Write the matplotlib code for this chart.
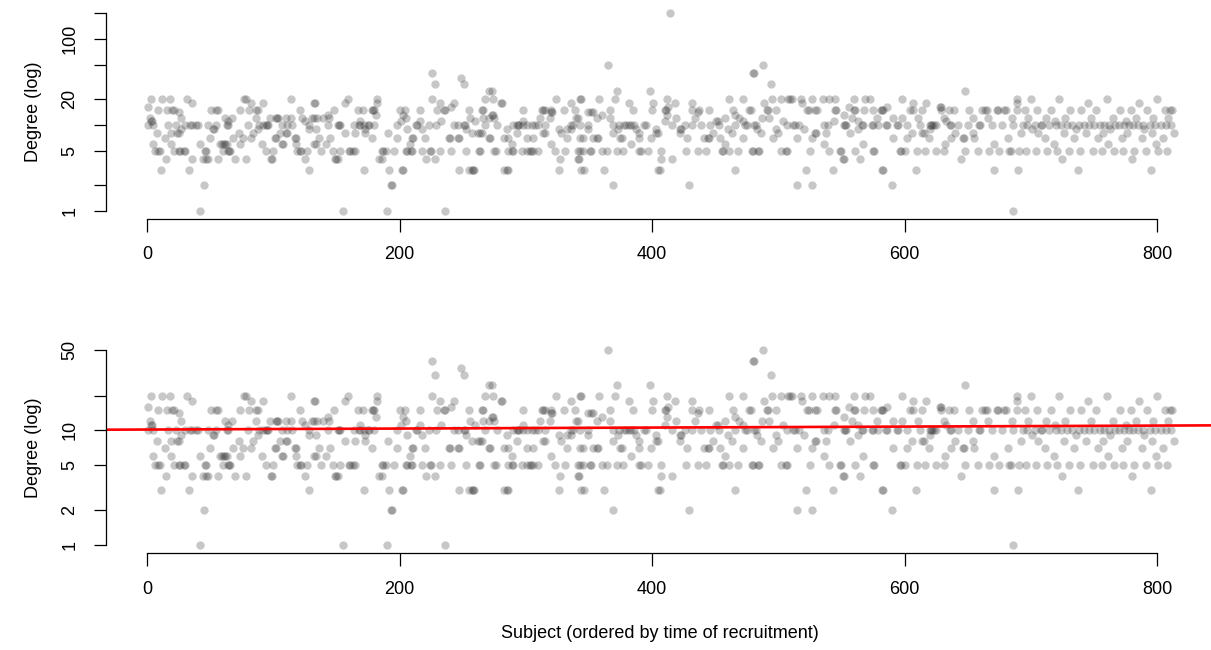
import matplotlib
matplotlib.use("Agg")
import matplotlib.pyplot as plt
from matplotlib.ticker import NullLocator, FixedLocator, FixedFormatter
import numpy as np

plt.rcParams['font.family'] = ['Liberation Sans', 'DejaVu Sans']

# subjects (recruitment order) grouped by their reported degree
deg1 = [42, 155, 190, 236, 686]
deg2 = [45, 193, 194, 369, 429, 515, 527, 590]
deg3 = [11, 33, 128, 172, 192, 202, 203, 247, 255, 257, 258, 259, 283, 285, 286,
        326, 344, 346, 362, 405, 406, 466, 522, 543, 582, 583, 609, 671, 690,
        737, 795]
deg4 = [15, 36, 44, 47, 48, 56, 70, 78, 98, 99, 125, 149, 150, 151, 184, 186,
        221, 228, 327, 341, 342, 407, 416, 551, 552, 565, 645, 725, 780]
deg5 = [6, 9, 10, 21, 25, 26, 29, 30, 46, 47, 60, 64, 65, 66, 94, 100, 119, 121,
        122, 127, 138, 147, 153, 160, 161, 163, 165, 186, 187, 189, 196, 205, 206,
        209, 210, 218, 224, 225, 232, 241, 253, 263, 264, 275, 276, 286, 289, 290,
        297, 301, 303, 304, 306, 310, 323, 331, 341, 343, 345, 351, 352, 360, 364,
        372, 377, 390, 391, 397, 407, 427, 436, 443, 455, 456, 461, 468, 479, 480,
        484, 485, 502, 506, 507, 525, 540, 550, 549, 561, 575, 576, 596, 597, 600,
        610, 616, 625, 631, 648, 658, 667, 675, 683, 684, 691, 696, 704, 713, 721,
        730, 739, 749, 756, 766, 773, 782, 791, 801, 808]
deg6 = [5, 19, 42, 58, 59, 62, 63, 61, 74, 91, 107, 108, 118, 132, 134, 142, 208,
        289, 320, 383, 458, 536, 567, 632, 671, 718, 761, 799]
deg7 = [14, 50, 68, 76, 82, 101, 102, 117, 118, 136, 145, 178, 198, 210, 211, 220,
        239, 240, 246, 247, 271, 272, 283, 286, 301, 306, 333, 343, 345, 353, 356,
        357, 375, 376, 390, 399, 428, 441, 444, 445, 454, 472, 496, 515, 527, 591,
        602, 619, 637, 646, 647, 655, 682, 711, 734, 753, 772, 788, 805]
deg8 = [8, 19, 24, 25, 73, 84, 105, 110, 111, 157, 165, 173, 191, 257, 262, 264,
        265, 293, 314, 315, 328, 369, 390, 403, 405, 422, 448, 463, 486, 500, 529,
        530, 538, 557, 606, 614, 615, 640, 654, 692, 706, 726, 744, 757, 776, 796,
        813]
deg9 = [27, 52, 53, 88, 128, 134, 173, 206, 218, 253, 285, 326, 333, 336, 349, 373,
        387, 403, 422, 423, 460, 483, 498, 520, 563, 620, 701, 736, 763, 790]
deg10 = [1, 5, 17, 23, 30, 34, 36, 39, 40, 48, 55, 63, 64, 80, 89, 92, 94, 95, 96,
         107, 111, 115, 128, 143, 151, 152, 153, 164, 168, 169, 172, 175, 176, 180,
         198, 213, 214, 223, 229, 243, 246, 251, 252, 268, 277, 290, 293, 294, 295,
         298, 301, 305, 307, 310, 315, 336, 337, 343, 349, 369, 374, 378, 379, 382,
         383, 386, 394, 395, 416, 426, 432, 439, 446, 453, 466, 474, 475, 481, 482,
         507, 512, 513, 516, 536, 539, 552, 553, 554, 566, 567, 574, 575, 579, 585,
         586, 594, 595, 602, 612, 620, 621, 622, 623, 625, 636, 637, 642, 650, 659,
         660, 669, 677, 686, 694, 697, 703, 708, 709, 714, 720, 724, 729, 733, 738,
         742, 746, 750, 755, 758, 762, 767, 770, 774, 778, 781, 785, 789, 794, 798,
         803, 807, 811]
deg11 = [3, 4, 64, 125, 169, 201, 216, 233, 260, 298, 410, 451, 452, 472, 504, 544,
         563, 633, 719, 775]
deg12 = [2, 27, 62, 67, 86, 97, 102, 103, 104, 110, 114, 123, 131, 132, 135, 139,
         144, 205, 256, 266, 271, 275, 311, 319, 340, 341, 356, 367, 419, 434, 458,
         469, 487, 493, 558, 578, 591, 598, 611, 631, 654, 666, 685, 698, 712, 727,
         748, 765, 783, 797, 809]
deg13 = [143, 181, 203, 273, 274, 360, 412, 466, 552]
deg14 = [25, 320, 321, 349, 352, 353, 436]
deg15 = [9, 16, 20, 21, 51, 55, 56, 74, 81, 86, 88, 121, 148, 167, 171, 178, 179,
         180, 200, 204, 216, 230, 235, 236, 255, 265, 266, 298, 313, 314, 315, 320,
         330, 339, 367, 385, 400, 410, 411, 432, 437, 445, 464, 477, 478, 491, 492,
         498, 523, 524, 529, 531, 545, 546, 560, 561, 568, 575, 581, 582, 583, 604,
         607, 614, 629, 635, 639, 651, 661, 664, 665, 673, 674, 679, 680, 689, 695,
         705, 716, 731, 740, 752, 771, 779, 792, 806, 810, 812]
deg16 = [1, 241, 413, 556, 586, 628, 629]
deg18 = [36, 82, 92, 132, 133, 157, 182, 232, 243, 280, 281, 336, 382, 401, 418,
         432, 489, 519, 607, 617, 689, 745, 786]
deg20 = [3, 12, 18, 32, 77, 78, 114, 159, 182, 226, 268, 274, 324, 343, 344, 358,
         371, 412, 461, 472, 495, 502, 508, 509, 511, 518, 527, 535, 540, 545, 560,
         569, 573, 598, 689, 700, 722, 760, 800]
deg25 = [271, 273, 372, 398, 648]
deg30 = [228, 251, 494]
deg35 = [249]
deg40 = [226, 480, 481]
deg50 = [365, 488]
deg200 = [414]

groups = [(1, deg1), (2, deg2), (3, deg3), (4, deg4), (5, deg5), (6, deg6),
          (7, deg7), (8, deg8), (9, deg9), (10, deg10), (11, deg11), (12, deg12),
          (13, deg13), (14, deg14), (15, deg15), (16, deg16), (18, deg18),
          (20, deg20), (25, deg25), (30, deg30), (35, deg35), (40, deg40),
          (50, deg50), (200, deg200)]
subject = np.concatenate([np.array(s, dtype=float) for d, s in groups])
degree = np.concatenate([np.full(len(s), d, dtype=float) for d, s in groups])

# fitted trend (log10 degree ~ subject)
fit_log10_intercept = 1.006
fit_log10_slope = 4.3e-5

top_ticks = [1, 2, 5, 10, 20, 50, 100, 200]
top_labels = ['1', '', '5', '', '20', '', '100', '']
bot_ticks = [1, 2, 5, 10, 20, 50]
bot_labels = ['1', '2', '5', '10', '', '50']
x_ticks = [0, 200, 400, 600, 800]

W, H = 1211, 650
fig = plt.figure(figsize=(W / 100, H / 100), dpi=100)

def px_axes(x0, x1, y0, y1):
    return fig.add_axes([x0 / W, 1 - y1 / H, (x1 - x0) / W, (y1 - y0) / H])

ax1 = px_axes(106, 1211, 5.4, 218.6)
ax2 = px_axes(106, 1211, 342, 553)

FS = 13
for ax, ticks, labels, ylim, ybound in [
        (ax1, top_ticks, top_labels, (0.809, 247), (1, 200)),
        (ax2, bot_ticks, bot_labels, (0.852, 58.7), (1, 50))]:
    ax.scatter(subject, degree, s=36, c='#333333', alpha=0.27, linewidths=0)
    ax.set_yscale('log')
    ax.set_xlim(-32.5, 842.7)
    ax.set_ylim(*ylim)
    ax.yaxis.set_major_locator(FixedLocator(ticks))
    ax.yaxis.set_major_formatter(FixedFormatter(labels))
    ax.yaxis.set_minor_locator(NullLocator())
    ax.set_xticks(x_ticks)
    ax.set_xticklabels([str(t) for t in x_ticks])
    for lab in ax.get_yticklabels():
        lab.set_rotation(90)
        lab.set_va('center')
    ax.spines['top'].set_visible(False)
    ax.spines['right'].set_visible(False)
    ax.spines['left'].set_bounds(*ybound)
    ax.spines['bottom'].set_bounds(0, 800)
    ax.tick_params(axis='both', length=9, width=0.9, pad=11, labelsize=FS,
                   colors='black')
    ax.spines['left'].set_linewidth(0.9)
    ax.spines['bottom'].set_linewidth(0.9)
    ax.set_ylabel('Degree (log)', fontsize=FS, labelpad=14)
    ax.patch.set_visible(False)

ax2.axline((0, 10 ** fit_log10_intercept),
           (800, 10 ** (fit_log10_intercept + 800 * fit_log10_slope)),
           color='red', lw=1.9)
fig.text(660 / W, 1 - 633 / H, 'Subject (ordered by time of recruitment)',
         ha='center', va='center', fontsize=FS)

fig.savefig('out.png', dpi=100)
